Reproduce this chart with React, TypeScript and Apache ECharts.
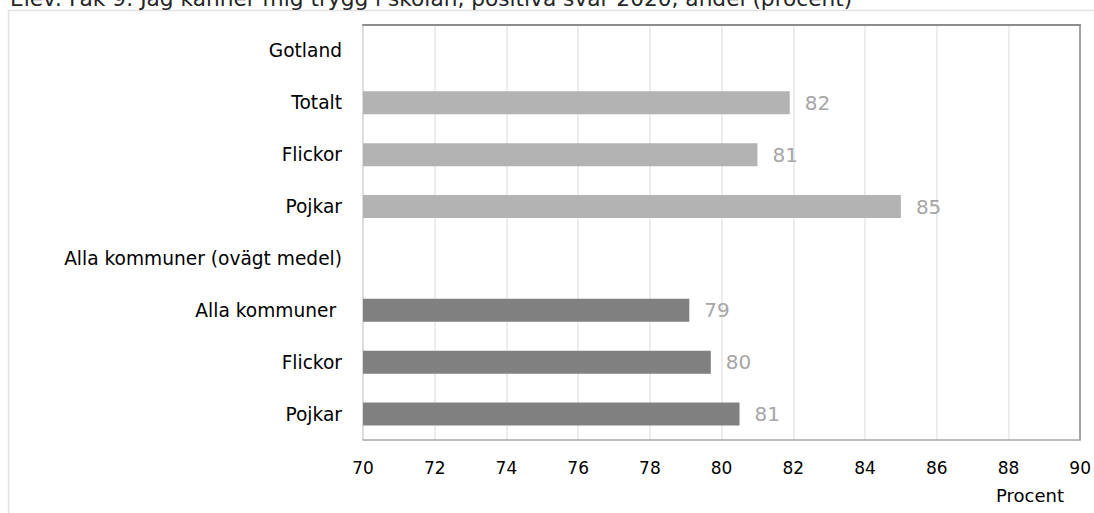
import React, { useEffect, useRef } from "react";
import * as echarts from "echarts";

const TITLE = "Elev: Fak 9: Jag känner mig trygg i skolan, positiva svar 2020, andel (procent)";
const categories = [
  "Gotland",
  "Totalt",
  "Flickor",
  "Pojkar",
  "Alla kommuner (ovägt medel)",
  "Alla kommuner ",
  "Flickor",
  "Pojkar",
];
const gotlandValues = [null, 81.9, 81.0, 85.0, null, null, null, null];
const kommunValues = [null, null, null, null, null, 79.1, 79.7, 80.5];
const xMin = 70;
const xMax = 90;
const xStep = 2;
const xUnit = "Procent";

const FONT = "DejaVu Sans";

export default function App() {
  const ref = useRef<HTMLDivElement>(null);
  useEffect(() => {
    if (!ref.current) return;
    const chart = echarts.init(ref.current, null, { renderer: "svg" });
    const valueLabel = {
      show: true,
      position: "right",
      distance: 15,
      fontFamily: FONT,
      fontSize: 20,
      color: "#a6a6a6",
      formatter: (p: any) => String(Math.round(p.value)),
    };
    chart.setOption({
      animation: false,
      backgroundColor: "#ffffff",
      grid: { left: 363, right: 13, top: 25, bottom: 73, containLabel: false },
      xAxis: [
        {
          type: "value",
          min: xMin,
          max: xMax,
          interval: xStep,
          axisLine: { show: true, lineStyle: { color: "#a6a6a6", width: 1.5 } },
          axisTick: { show: false },
          splitLine: { show: true, lineStyle: { color: "#e6e6e6", width: 1.5 } },
          axisLabel: { fontFamily: FONT, fontSize: 17, color: "#000000", margin: 19 },
        },
        {
          type: "value",
          position: "top",
          min: xMin,
          max: xMax,
          interval: xStep,
          axisLine: { show: true, onZero: false, lineStyle: { color: "#8c8c8c", width: 2 } },
          axisTick: { show: false },
          splitLine: { show: false },
          axisLabel: { show: false },
        },
      ],
      yAxis: [
        {
          type: "category",
          inverse: true,
          data: categories,
          axisLine: { show: true, lineStyle: { color: "#d9d9d9", width: 1.5 } },
          axisTick: { show: false },
          axisLabel: { fontFamily: FONT, fontSize: 18.6, color: "#000000", margin: 21 },
        },
        {
          type: "category",
          inverse: true,
          position: "right",
          data: categories,
          axisLine: { show: true, onZero: false, lineStyle: { color: "#8c8c8c", width: 1.5 } },
          axisTick: { show: false },
          axisLabel: { show: false },
        },
      ],
      series: [
        {
          type: "bar",
          data: gotlandValues,
          barWidth: 23,
          barGap: "-100%",
          itemStyle: { color: "#b3b3b3" },
          label: valueLabel,
        },
        {
          type: "bar",
          data: kommunValues,
          barWidth: 23,
          barGap: "-100%",
          itemStyle: { color: "#808080" },
          label: valueLabel,
        },
      ],
      graphic: [
        {
          type: "rect",
          shape: { x: 8.5, y: 10.5, width: 1100, height: 520 },
          style: { fill: "none", stroke: "#e3e3e3", lineWidth: 1.5 },
          silent: true,
          z: -10,
        },
        {
          type: "text",
          x: 10,
          y: -2,
          style: {
            text: TITLE,
            fontFamily: FONT,
            fontSize: 21.7,
            fill: "#262626",
            verticalAlign: "middle",
            align: "left",
          },
        },
        {
          type: "text",
          x: 1030,
          y: 495,
          style: {
            text: xUnit,
            fontFamily: FONT,
            fontSize: 18,
            fill: "#000000",
            verticalAlign: "middle",
            align: "center",
          },
        },
      ],
    });
    return () => chart.dispose();
  }, []);
  return (
    <div
      ref={ref}
      style={{ position: "fixed", left: 0, top: 0, width: 1094, height: 513 }}
    />
  );
}
